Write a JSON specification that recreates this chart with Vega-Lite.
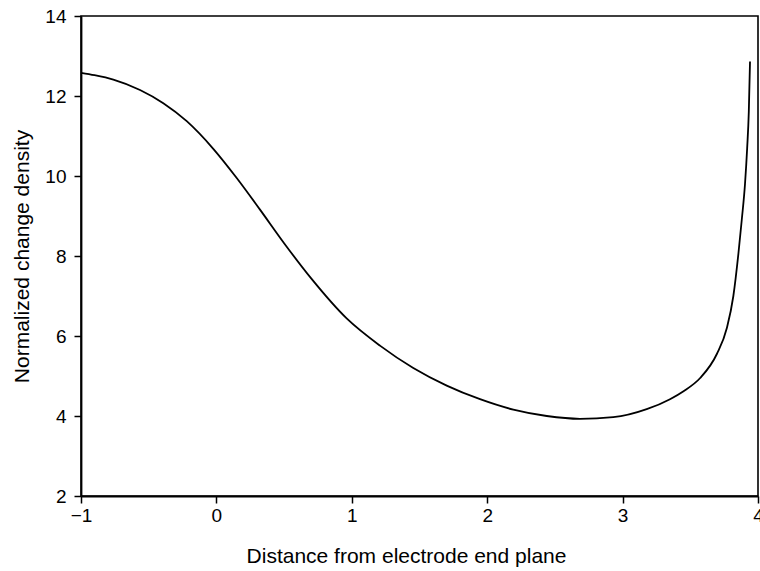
{
  "$schema": "https://vega.github.io/schema/vega-lite/v6.json",
  "width": 677,
  "height": 480,
  "autosize": {"type": "none"},
  "padding": {"left": 81, "top": 16, "right": 2, "bottom": 75},
  "background": "white",
  "config": {
    "font": "Liberation Sans",
    "view": {"stroke": "black", "strokeWidth": 1.6},
    "axis": {
      "grid": false,
      "domainColor": "black",
      "domainWidth": 1.8,
      "tickColor": "black",
      "tickWidth": 1.5,
      "tickSize": 7,
      "labelColor": "black",
      "titleColor": "black",
      "labelFont": "Liberation Sans",
      "titleFont": "Liberation Sans",
      "labelFontSize": 19,
      "titleFontSize": 21,
      "titleFontWeight": "normal"
    }
  },
  "data": {
    "values": [
      {"x": -1.0, "y": 12.58},
      {"x": -0.9, "y": 12.52},
      {"x": -0.761, "y": 12.41},
      {"x": -0.564, "y": 12.15},
      {"x": -0.392, "y": 11.82},
      {"x": -0.219, "y": 11.37},
      {"x": -0.023, "y": 10.68},
      {"x": 0.15, "y": 9.95},
      {"x": 0.322, "y": 9.16},
      {"x": 0.5, "y": 8.32},
      {"x": 0.7, "y": 7.44},
      {"x": 0.962, "y": 6.44},
      {"x": 1.208, "y": 5.76},
      {"x": 1.454, "y": 5.2},
      {"x": 1.701, "y": 4.76},
      {"x": 1.947, "y": 4.42},
      {"x": 2.193, "y": 4.16},
      {"x": 2.44, "y": 4.0},
      {"x": 2.685, "y": 3.93},
      {"x": 2.931, "y": 3.97},
      {"x": 3.178, "y": 4.17},
      {"x": 3.35, "y": 4.42},
      {"x": 3.45, "y": 4.62},
      {"x": 3.573, "y": 4.95},
      {"x": 3.696, "y": 5.55},
      {"x": 3.77, "y": 6.2},
      {"x": 3.818, "y": 7.0},
      {"x": 3.855, "y": 8.05},
      {"x": 3.88, "y": 8.9},
      {"x": 3.904, "y": 9.8},
      {"x": 3.92, "y": 10.7},
      {"x": 3.932, "y": 11.6},
      {"x": 3.941, "y": 12.86}
    ]
  },
  "mark": {"type": "line", "color": "black", "strokeWidth": 1.8, "interpolate": "monotone", "clip": true},
  "encoding": {
    "x": {
      "field": "x",
      "type": "quantitative",
      "scale": {"domain": [-1, 4], "nice": false, "zero": false},
      "axis": {
        "title": "Distance from electrode end plane",
        "values": [-1, 0, 1, 2, 3, 4],
        "labelPadding": 3,
        "titlePadding": 20,
        "titleX": 325,
        "titleAlign": "center",
        "labelFlush": false,
        "labelOverlap": false
      }
    },
    "y": {
      "field": "y",
      "type": "quantitative",
      "scale": {"domain": [2, 14], "nice": false, "zero": false},
      "axis": {
        "title": "Normalized change density",
        "values": [2, 4, 6, 8, 10, 12, 14],
        "labelPadding": 8,
        "titlePadding": 12,
        "labelFlush": false,
        "labelOverlap": false
      }
    }
  }
}
